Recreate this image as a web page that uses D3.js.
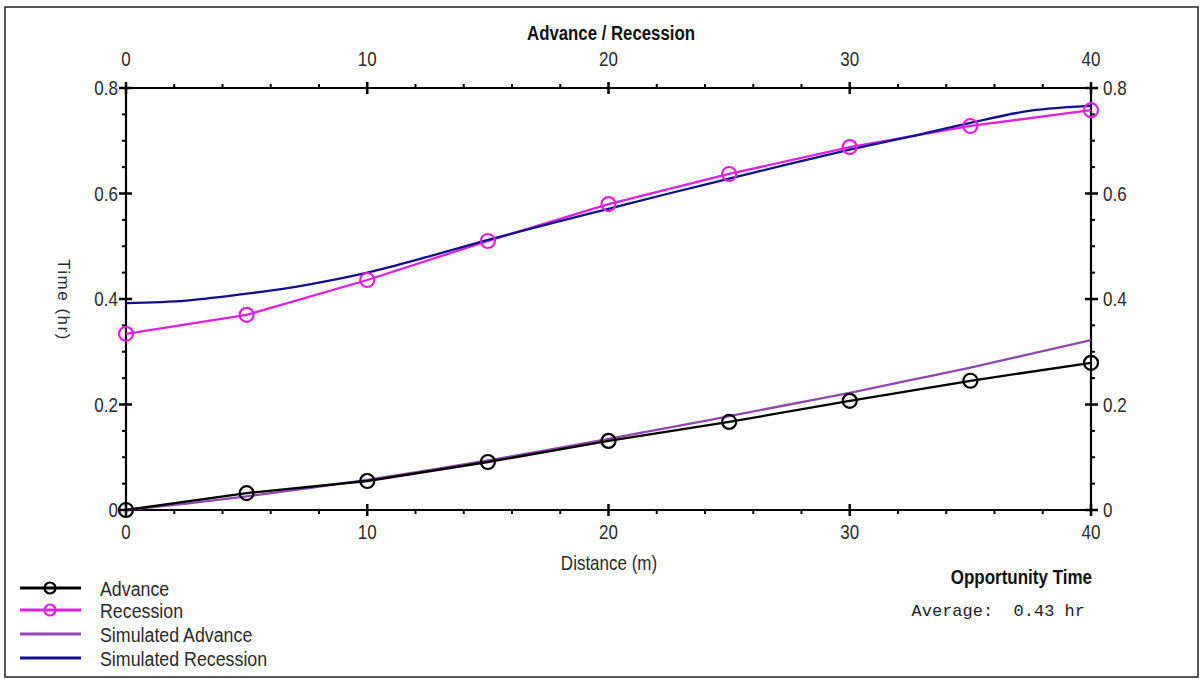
<!DOCTYPE html>
<html><head><meta charset="utf-8">
<script src="https://cdn.jsdelivr.net/npm/d3@7"></script>
<style>
body{margin:0;background:#fff;}
svg{display:block;}
text{font-family:"Liberation Sans",Arial,sans-serif;}
</style></head><body>
<script>
const distance = [0,5,10,15,20,25,30,35,40];
const advance = [0,0.032,0.055,0.091,0.131,0.167,0.207,0.245,0.279];
const recession = [0.334,0.37,0.436,0.51,0.58,0.637,0.688,0.728,0.758];
const simDistance = [0,2.5,5,7.5,10,12.5,15,17.5,20,22.5,25,27.5,30,32.5,35,37.5,40];
const simAdvance = [0,0.012,0.026,0.041,0.057,0.075,0.094,0.114,0.135,0.156,0.178,0.2,0.222,0.246,0.27,0.296,0.322];
const simRecession = [0.392,0.397,0.41,0.427,0.45,0.48,0.512,0.542,0.571,0.6,0.628,0.656,0.683,0.708,0.734,0.757,0.766];
const xTicks = [0,10,20,30,40];
const yTicks = [0,0.2,0.4,0.6,0.8];
const yTickLabels = ["0","0.2","0.4","0.6","0.8"];
const legendLabels = ["Advance","Recession","Simulated Advance","Simulated Recession"];

const W=1204,H=679;
const svg=d3.select("body").append("svg").attr("width",W).attr("height",H);
svg.append("rect").attr("x",5).attr("y",7).attr("width",1193).attr("height",670)
  .attr("fill","#fff").attr("stroke","#222").attr("stroke-width",1.5);

const x=d3.scaleLinear().domain([0,40]).range([126,1091]);
const y=d3.scaleLinear().domain([0,0.8]).range([510,88]);

const tickCol="#000", labCol="#2a2a2a";
const FS=20, SX=0.85;

function txt(px,py,str,o={}){
  const t=svg.append("text")
    .attr("transform",`translate(${px},${py}) ${o.rot?`rotate(${o.rot})`:""} scale(${o.sx||SX},1)`)
    .attr("font-size",o.size||FS).attr("fill",o.fill||labCol)
    .attr("text-anchor",o.anchor||"start").text(str);
  if(o.weight) t.attr("font-weight",o.weight);
  if(o.family) t.style("font-family",o.family);
  return t;
}

// axes lines
const ag=svg.append("g").attr("stroke",tickCol).attr("stroke-width",2.2);
ag.append("line").attr("x1",x(0)).attr("x2",x(40)).attr("y1",y(0)).attr("y2",y(0));
ag.append("line").attr("x1",x(0)).attr("x2",x(40)).attr("y1",y(0.8)).attr("y2",y(0.8));
ag.append("line").attr("x1",x(0)).attr("x2",x(0)).attr("y1",y(0)).attr("y2",y(0.8));
ag.append("line").attr("x1",x(40)).attr("x2",x(40)).attr("y1",y(0)).attr("y2",y(0.8));

const xMinor=d3.range(0,40.01,2).filter(v=>v%10!==0);
const yMinor=d3.range(0,0.801,0.05).filter(v=>Math.abs(v/0.2-Math.round(v/0.2))>0.01);
const tg=svg.append("g").attr("stroke",tickCol);
xTicks.forEach(v=>{
  tg.append("line").attr("x1",x(v)).attr("x2",x(v)).attr("y1",y(0)-6).attr("y2",y(0)+6).attr("stroke-width",2.5);
  tg.append("line").attr("x1",x(v)).attr("x2",x(v)).attr("y1",y(0.8)-6).attr("y2",y(0.8)+6).attr("stroke-width",2.5);
});
yTicks.forEach(v=>{
  tg.append("line").attr("y1",y(v)).attr("y2",y(v)).attr("x1",x(0)-7).attr("x2",x(0)+6).attr("stroke-width",2.5);
  tg.append("line").attr("y1",y(v)).attr("y2",y(v)).attr("x1",x(40)-6).attr("x2",x(40)+7).attr("stroke-width",2.5);
});
xMinor.forEach(v=>{
  tg.append("line").attr("x1",x(v)).attr("x2",x(v)).attr("y1",y(0)).attr("y2",y(0)+4).attr("stroke-width",2);
  tg.append("line").attr("x1",x(v)).attr("x2",x(v)).attr("y1",y(0.8)-4).attr("y2",y(0.8)).attr("stroke-width",2);
});
yMinor.forEach(v=>{
  tg.append("line").attr("y1",y(v)).attr("y2",y(v)).attr("x1",x(0)-4).attr("x2",x(0)).attr("stroke-width",2);
  tg.append("line").attr("y1",y(v)).attr("y2",y(v)).attr("x1",x(40)).attr("x2",x(40)+4).attr("stroke-width",2);
});

// tick labels
xTicks.forEach(v=>{
  txt(x(v),y(0)+29,String(v),{anchor:"middle"});
  txt(x(v),y(0.8)-22,String(v),{anchor:"middle"});
});
yTicks.forEach((v,i)=>{
  txt(x(0)-8,y(v)+7,yTickLabels[i],{anchor:"end"});
  txt(x(40)+12,y(v)+7,yTickLabels[i],{anchor:"start"});
});

// titles
txt(611,40,"Advance / Recession",{anchor:"middle",size:21,weight:"bold",sx:0.8,fill:"#111"});
txt(609,570,"Distance (m)",{anchor:"middle"});
txt(58,300,"Time (hr)",{anchor:"middle",rot:90,sx:1,size:17}).attr("letter-spacing",1.5);

// series
const colors={adv:"#000000",rec:"#e020e0",simAdv:"#9048b0",simRec:"#10108e"};
const lineLin=d3.line().x(d=>x(d[0])).y(d=>y(d[1]));
const lineSmooth=d3.line().x(d=>x(d[0])).y(d=>y(d[1])).curve(d3.curveMonotoneX);
const pg=svg.append("g").attr("fill","none");
pg.append("path").datum(simDistance.map((d,i)=>[d,simAdvance[i]])).attr("d",lineSmooth).attr("stroke",colors.simAdv).attr("stroke-width",2.3);
pg.append("path").datum(distance.map((d,i)=>[d,advance[i]])).attr("d",lineLin).attr("stroke",colors.adv).attr("stroke-width",2.3);
pg.append("path").datum(distance.map((d,i)=>[d,recession[i]])).attr("d",lineLin).attr("stroke",colors.rec).attr("stroke-width",2.3);
pg.append("path").datum(simDistance.map((d,i)=>[d,simRecession[i]])).attr("d",lineSmooth).attr("stroke",colors.simRec).attr("stroke-width",2.3);
distance.forEach((d,i)=>{
  pg.append("circle").attr("cx",x(d)).attr("cy",y(advance[i])).attr("r",7).attr("stroke",colors.adv).attr("stroke-width",2.2);
  pg.append("circle").attr("cx",x(d)).attr("cy",y(recession[i])).attr("r",7).attr("stroke",colors.rec).attr("stroke-width",2.2);
});

// legend
const legColors=[colors.adv,colors.rec,colors.simAdv,colors.simRec];
const legMarker=[true,true,false,false];
const legY=[588,610,634,658];
legendLabels.forEach((t,i)=>{
  const yy=legY[i];
  svg.append("line").attr("x1",20).attr("x2",81).attr("y1",yy).attr("y2",yy).attr("stroke",legColors[i]).attr("stroke-width",3);
  if(legMarker[i]) svg.append("circle").attr("cx",50).attr("cy",yy).attr("r",5.5).attr("fill","none").attr("stroke",legColors[i]).attr("stroke-width",2.2);
  txt(100,yy+8,t,{sx:0.89});
});

txt(1092,584,"Opportunity Time",{anchor:"end",weight:"bold",sx:0.85,fill:"#111"});
svg.append("text").attr("x",1085).attr("y",616).attr("text-anchor","end").attr("font-size",17)
  .attr("fill","#222").style("font-family","'Liberation Mono','Courier New',monospace")
  .attr("xml:space","preserve").style("white-space","pre").text("Average:  0.43 hr");
</script>
</body></html>
